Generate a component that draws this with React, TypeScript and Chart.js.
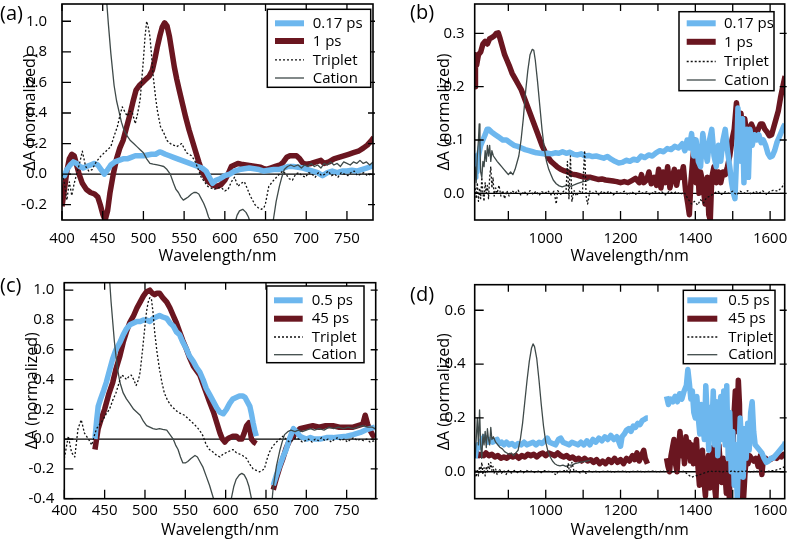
import React, { useEffect, useRef } from "react";
import { Chart, registerables } from "chart.js";
Chart.register(...registerables);

type Pt = [number, number | null];

// ---------------- DATA ----------------
const SERIES_TRIPLET = "Triplet";
const SERIES_CATION = "Cation";
const A_FAST_LABEL = "0.17 ps";
const A_SLOW_LABEL = "1 ps";
const C_FAST_LABEL = "0.5 ps";
const C_SLOW_LABEL = "45 ps";
const X_TITLE = "Wavelength/nm";
const Y_TITLE = "ΔA (normalized)";

const visXTicks = [400, 450, 500, 550, 600, 650, 700, 750];
const nirXTicks = [900, 1000, 1100, 1200, 1300, 1400, 1500, 1600];
const nirXLabels = [1000, 1200, 1400, 1600];
const aYTicks = [-0.2, 0, 0.2, 0.4, 0.6, 0.8, 1.0];
const bYTicks = [0, 0.1, 0.2, 0.3];
const cYTicks = [-0.4, -0.2, 0, 0.2, 0.4, 0.6, 0.8, 1.0];
const dYTicks = [0, 0.2, 0.4, 0.6];

// Panel (a): visible, 0.17 ps / 1 ps
const aFast: Pt[] = [[400,0.0],[403,-0.01],[406,0.03],[410,0.06],[414,0.08],[418,0.07],[422,0.05],[426,0.04],[430,0.05],[435,0.06],[440,0.07],[444,0.06],[448,0.03],[452,0.0],[455,0.02],[460,0.06],[465,0.08],[470,0.09],[475,0.1],[480,0.1],[485,0.11],[490,0.12],[495,0.12],[500,0.12],[505,0.125],[510,0.13],[515,0.13],[520,0.145],[523,0.14],[527,0.13],[532,0.12],[537,0.11],[542,0.1],[547,0.09],[552,0.08],[557,0.07],[562,0.06],[567,0.05],[572,0.04],[577,0.02],[581,-0.02],[585,-0.06],[589,-0.04],[594,-0.03],[600,-0.01],[606,0.0],[612,0.02],[618,0.03],[624,0.035],[630,0.04],[636,0.035],[642,0.03],[648,0.02],[654,0.025],[660,0.03],[666,0.03],[672,0.04],[678,0.05],[684,0.05],[690,0.045],[696,0.04],[702,0.03],[708,0.02],[714,0.01],[720,-0.01],[726,0.01],[732,0.02],[738,0.01],[744,0.02],[750,0.02],[756,0.025],[762,0.02],[768,0.03],[774,0.04],[780,0.05],[785,0.06]];
const aSlow: Pt[] = [[400,-0.21],[403,-0.1],[406,0.02],[409,0.1],[412,0.13],[415,0.12],[418,0.06],[421,0.0],[425,-0.06],[430,-0.1],[435,-0.12],[440,-0.13],[444,-0.15],[447,-0.2],[450,-0.26],[453,-0.3],[456,-0.24],[459,-0.12],[463,0.0],[467,0.1],[471,0.17],[475,0.22],[479,0.3],[483,0.38],[487,0.47],[491,0.55],[495,0.58],[499,0.6],[503,0.62],[507,0.64],[511,0.68],[514,0.75],[517,0.83],[520,0.9],[523,0.96],[526,0.99],[529,0.97],[532,0.9],[535,0.8],[538,0.7],[541,0.62],[544,0.55],[548,0.46],[552,0.37],[556,0.29],[560,0.22],[564,0.15],[568,0.08],[572,0.02],[576,-0.02],[580,-0.05],[585,-0.07],[590,-0.08],[595,-0.07],[600,-0.04],[604,0.0],[608,0.05],[612,0.06],[616,0.07],[620,0.065],[626,0.06],[632,0.055],[638,0.05],[644,0.045],[650,0.03],[656,0.04],[662,0.05],[668,0.06],[672,0.08],[676,0.11],[680,0.12],[684,0.12],[688,0.12],[692,0.1],[696,0.07],[700,0.065],[706,0.07],[712,0.08],[718,0.09],[722,0.07],[728,0.08],[734,0.1],[740,0.11],[746,0.12],[752,0.13],[758,0.14],[764,0.15],[770,0.17],[775,0.19],[780,0.22],[783,0.24],[785,0.22]];
const aTriplet: Pt[] = [[400,0.0],[403,-0.06],[406,-0.17],[409,-0.05],[412,-0.14],[415,-0.06],[418,0.0],[422,0.08],[425,0.15],[429,0.05],[433,0.02],[437,0.03],[442,0.08],[448,0.12],[454,0.15],[460,0.18],[464,0.25],[468,0.31],[471,0.38],[474,0.44],[477,0.41],[480,0.38],[483,0.41],[486,0.41],[490,0.33],[493,0.4],[496,0.49],[500,0.75],[502,0.9],[504,1.0],[506,0.96],[508,0.9],[510,0.78],[512,0.64],[515,0.5],[517,0.42],[521,0.31],[525,0.27],[529,0.22],[533,0.2],[537,0.19],[541,0.18],[547,0.2],[553,0.14],[559,0.12],[563,0.09],[566,0.05],[571,-0.02],[575,-0.05],[579,-0.08],[583,-0.09],[587,-0.1],[591,-0.09],[596,-0.09],[600,-0.11],[604,-0.1],[608,-0.05],[612,-0.02],[616,-0.08],[620,-0.06],[624,-0.05],[628,-0.1],[631,-0.14],[634,-0.17],[637,-0.2],[641,-0.22],[645,-0.23],[648,-0.22],[650,-0.19],[654,-0.08],[660,-0.04],[667,0.0],[671,0.02],[675,0.0],[679,-0.03],[683,-0.04],[687,0.0],[691,0.01],[695,-0.01],[699,-0.02],[703,0.01],[707,0.0],[711,-0.02],[715,0.01],[719,-0.01],[723,0.0],[727,0.02],[731,-0.01],[735,0.0],[739,-0.02],[743,0.01],[747,0.0],[751,-0.01],[755,0.01],[759,0.02],[763,-0.01],[767,0.0],[771,0.01],[775,-0.01],[779,0.0],[785,-0.01]];
const aCation: Pt[] = [[452,1.3],[455,1.12],[457,0.98],[460,0.79],[464,0.58],[467,0.48],[470,0.41],[473,0.34],[476,0.29],[480,0.25],[484,0.22],[488,0.2],[492,0.18],[496,0.16],[500,0.14],[504,0.1],[508,0.07],[512,0.065],[517,0.06],[521,0.055],[525,0.05],[529,0.03],[533,0.0],[537,-0.06],[540,-0.1],[543,-0.12],[546,-0.15],[549,-0.17],[552,-0.16],[555,-0.15],[559,-0.13],[562,-0.12],[565,-0.12],[568,-0.13],[571,-0.16],[574,-0.19],[577,-0.23],[580,-0.28],[583,-0.31],[590,-0.6],[605,-0.6],[612,-0.33],[615,-0.27],[618,-0.24],[622,-0.23],[626,-0.25],[629,-0.28],[632,-0.33],[640,-0.6],[652,-0.6],[659,-0.32],[663,-0.18],[667,-0.08],[670,-0.02],[673,0.03],[677,0.05],[681,0.06],[685,0.05],[690,0.06],[694,0.04],[698,0.06],[702,0.05],[706,0.07],[710,0.05],[714,0.06],[718,0.04],[722,0.07],[726,0.06],[730,0.08],[734,0.06],[738,0.07],[742,0.05],[746,0.08],[750,0.07],[754,0.06],[758,0.08],[762,0.07],[766,0.09],[770,0.07],[774,0.08],[778,0.06],[782,0.08],[785,0.07]];

// Panel (b): NIR, 0.17 ps / 1 ps
const bFast: Pt[] = [[811,0.03],[813,0.07],[816,0.04],[820,0.07],[826,0.09],[832,0.1],[838,0.11],[843,0.12],[848,0.12],[855,0.115],[865,0.11],[875,0.105],[885,0.1],[895,0.1],[905,0.095],[915,0.09],[925,0.088],[935,0.085],[945,0.082],[955,0.08],[965,0.078],[975,0.076],[985,0.075],[995,0.074],[1005,0.075],[1015,0.074],[1025,0.076],[1035,0.075],[1045,0.078],[1055,0.075],[1065,0.077],[1075,0.073],[1085,0.072],[1095,0.074],[1105,0.07],[1115,0.071],[1125,0.069],[1135,0.07],[1145,0.068],[1155,0.066],[1165,0.069],[1175,0.064],[1185,0.06],[1195,0.057],[1205,0.058],[1215,0.062],[1225,0.06],[1235,0.064],[1245,0.062],[1255,0.07],[1265,0.067],[1275,0.072],[1285,0.07],[1295,0.076],[1305,0.08],[1315,0.078],[1325,0.084],[1335,0.082],[1345,0.088],[1355,0.085],[1365,0.093],[1372,0.08],[1378,0.1],[1384,0.085],[1390,0.112],[1396,0.07],[1402,0.1],[1408,0.06],[1414,0.05],[1420,0.112],[1426,0.08],[1432,0.06],[1438,0.1],[1444,0.12],[1450,0.07],[1456,0.05],[1462,0.09],[1468,0.06],[1474,0.1],[1480,0.12],[1486,0.08],[1492,0.05],[1497,0.02],[1502,0.0],[1506,-0.01],[1510,0.06],[1514,0.16],[1518,0.1],[1522,0.06],[1526,0.14],[1530,0.02],[1534,0.1],[1538,0.12],[1542,0.03],[1546,0.12],[1552,0.09],[1558,0.11],[1564,0.1],[1570,0.11],[1576,0.095],[1582,0.1],[1588,0.09],[1594,0.075],[1600,0.068],[1606,0.07],[1612,0.08],[1618,0.095],[1624,0.105],[1630,0.115],[1636,0.125],[1640,0.13]];
const bSlow: Pt[] = [[811,0.2],[812,0.26],[815,0.24],[820,0.26],[826,0.265],[832,0.28],[838,0.285],[844,0.28],[850,0.29],[856,0.292],[862,0.295],[868,0.3],[873,0.301],[878,0.29],[884,0.275],[890,0.26],[896,0.25],[902,0.24],[910,0.225],[918,0.215],[926,0.205],[934,0.195],[942,0.18],[950,0.165],[958,0.15],[966,0.135],[974,0.12],[982,0.105],[990,0.09],[998,0.078],[1006,0.068],[1014,0.06],[1022,0.055],[1030,0.05],[1040,0.045],[1050,0.042],[1060,0.04],[1070,0.036],[1080,0.035],[1090,0.033],[1100,0.031],[1110,0.03],[1120,0.03],[1130,0.028],[1140,0.026],[1150,0.027],[1160,0.025],[1170,0.024],[1180,0.023],[1190,0.022],[1200,0.02],[1210,0.022],[1220,0.02],[1230,0.024],[1240,0.028],[1250,0.02],[1256,0.035],[1262,0.02],[1270,0.025],[1276,0.04],[1282,0.018],[1290,0.03],[1296,0.015],[1302,0.045],[1308,0.01],[1314,0.04],[1320,0.02],[1326,0.05],[1332,0.01],[1338,0.03],[1344,0.045],[1350,0.015],[1356,0.04],[1362,0.03],[1368,0.05],[1374,0.005],[1380,-0.02],[1384,-0.04],[1388,0.02],[1394,0.07],[1398,0.1],[1402,0.02],[1406,0.06],[1410,0.0],[1414,0.04],[1420,0.02],[1426,-0.02],[1432,0.03],[1436,-0.04],[1440,-0.05],[1444,0.03],[1450,0.05],[1456,0.02],[1462,0.04],[1468,0.02],[1474,0.04],[1480,0.035],[1486,0.05],[1492,0.07],[1498,0.1],[1504,0.12],[1510,0.17],[1514,0.14],[1518,0.1],[1522,0.15],[1526,0.12],[1532,0.14],[1538,0.11],[1544,0.12],[1550,0.13],[1556,0.12],[1562,0.11],[1568,0.12],[1574,0.13],[1580,0.13],[1586,0.12],[1592,0.115],[1598,0.108],[1604,0.11],[1610,0.125],[1616,0.14],[1622,0.155],[1628,0.18],[1634,0.2],[1640,0.22]];
const bTriplet: Pt[] = [[811,0.01],[814,-0.01],[817,0.02],[820,-0.015],[823,0.01],[826,-0.01],[829,0.03],[832,0.0],[835,-0.015],[838,0.02],[841,0.0],[844,0.015],[847,-0.01],[850,0.03],[853,0.05],[856,0.01],[859,0.03],[862,-0.005],[866,0.01],[870,0.0],[875,0.015],[880,-0.005],[885,0.005],[890,-0.01],[896,0.005],[902,-0.005],[910,0.005],[918,0.0],[926,0.006],[934,-0.004],[942,0.004],[950,-0.003],[958,0.005],[966,-0.002],[974,0.004],[982,-0.004],[990,0.003],[998,0.0],[1006,0.005],[1014,-0.003],[1022,0.004],[1028,-0.02],[1032,0.005],[1040,-0.002],[1048,0.004],[1054,0.0],[1058,0.06],[1062,-0.01],[1066,0.07],[1070,-0.015],[1076,0.005],[1082,-0.005],[1090,0.004],[1098,0.0],[1104,0.08],[1108,-0.005],[1112,-0.02],[1118,0.004],[1126,0.0],[1134,0.004],[1142,-0.003],[1150,0.004],[1160,0.0],[1170,0.004],[1180,-0.003],[1190,0.003],[1200,0.0],[1210,0.004],[1220,-0.003],[1230,0.003],[1240,-0.002],[1250,0.004],[1260,0.0],[1270,0.003],[1280,-0.003],[1290,0.004],[1300,0.0],[1310,0.003],[1320,-0.003],[1330,0.004],[1340,0.0],[1350,0.003],[1360,-0.002],[1370,0.002],[1380,-0.01],[1390,-0.02],[1398,-0.015],[1406,-0.022],[1414,-0.012],[1422,-0.018],[1430,-0.008],[1440,-0.005],[1450,0.0],[1460,0.004],[1470,-0.002],[1480,0.003],[1490,0.0],[1500,0.004],[1510,-0.003],[1520,0.004],[1530,0.0],[1540,0.005],[1550,-0.002],[1560,0.004],[1570,0.0],[1580,0.005],[1590,-0.002],[1600,0.004],[1610,0.006],[1620,0.004],[1630,0.01],[1640,0.02]];
const bCation: Pt[] = [[811,0.05],[814,0.02],[817,0.07],[820,0.1],[822,0.13],[824,0.09],[826,0.04],[829,0.03],[832,0.06],[835,0.05],[838,0.08],[841,0.06],[844,0.09],[847,0.07],[850,0.09],[853,0.06],[856,0.08],[860,0.07],[865,0.065],[870,0.06],[876,0.055],[882,0.05],[888,0.045],[894,0.04],[900,0.035],[906,0.04],[912,0.035],[918,0.045],[922,0.055],[928,0.07],[934,0.1],[940,0.14],[946,0.19],[952,0.23],[958,0.26],[964,0.27],[968,0.268],[972,0.25],[978,0.21],[984,0.165],[990,0.12],[996,0.085],[1002,0.06],[1008,0.045],[1014,0.035],[1020,0.025],[1028,0.018],[1036,0.014],[1044,0.012],[1052,0.014],[1060,0.015],[1068,0.013],[1076,0.016],[1084,0.018],[1092,0.02],[1100,0.022],[1108,0.023],[1115,0.025],[1120,0.027]];

// Panel (c): visible, 0.5 ps / 45 ps
const cFast: Pt[] = [[438,0.0],[440,0.12],[442,0.22],[445,0.27],[449,0.33],[452,0.38],[456,0.46],[460,0.54],[464,0.6],[469,0.65],[473,0.7],[477,0.74],[482,0.77],[486,0.78],[490,0.79],[494,0.79],[498,0.8],[502,0.8],[506,0.79],[510,0.81],[514,0.82],[518,0.83],[522,0.82],[527,0.81],[531,0.78],[535,0.76],[539,0.72],[543,0.7],[547,0.65],[551,0.61],[555,0.56],[560,0.52],[564,0.48],[568,0.45],[572,0.4],[576,0.34],[580,0.3],[585,0.25],[589,0.21],[593,0.18],[597,0.17],[601,0.2],[605,0.24],[609,0.27],[613,0.28],[617,0.29],[621,0.29],[624,0.28],[627,0.25],[630,0.22],[632,0.17],[634,0.11],[636,0.06],[638,0.02],[648,null],[659,-0.31],[663,-0.24],[667,-0.18],[671,-0.12],[675,-0.07],[679,0.0],[684,0.07],[688,0.05],[692,0.02],[696,0.01],[700,0.0],[705,0.01],[710,0.0],[717,0.0],[725,0.01],[733,0.01],[741,0.015],[750,0.02],[758,0.03],[767,0.045],[773,0.06],[779,0.07],[785,0.08]];
const cSlow: Pt[] = [[438,-0.07],[440,0.0],[442,0.07],[446,0.14],[450,0.2],[455,0.3],[460,0.38],[464,0.47],[469,0.56],[473,0.65],[477,0.72],[481,0.78],[486,0.83],[490,0.88],[494,0.92],[498,0.96],[502,0.99],[506,1.0],[509,0.98],[512,0.97],[515,0.98],[518,0.98],[522,0.95],[527,0.92],[531,0.88],[535,0.83],[539,0.78],[543,0.72],[547,0.66],[551,0.61],[555,0.55],[560,0.49],[564,0.46],[568,0.43],[572,0.37],[576,0.31],[580,0.25],[585,0.18],[589,0.11],[593,0.04],[596,0.0],[599,-0.02],[602,0.0],[605,0.01],[609,0.02],[613,0.02],[617,0.0],[620,0.0],[623,0.04],[626,0.09],[629,0.11],[632,0.0],[635,-0.02],[638,-0.03],[648,null],[659,-0.34],[663,-0.26],[667,-0.19],[671,-0.13],[675,-0.06],[680,0.0],[684,0.02],[688,0.05],[692,0.07],[700,0.08],[708,0.09],[716,0.08],[724,0.09],[733,0.09],[741,0.08],[750,0.08],[758,0.08],[764,0.09],[770,0.1],[773,0.16],[776,0.1],[779,0.06],[782,0.03],[785,0.01]];
const cTriplet: Pt[] = [[400,-0.13],[403,-0.04],[405,0.02],[409,-0.09],[413,-0.12],[417,0.07],[421,0.13],[425,0.04],[430,0.0],[434,-0.04],[437,0.02],[440,0.07],[444,0.1],[448,0.13],[452,0.17],[456,0.2],[460,0.26],[464,0.31],[468,0.38],[471,0.43],[474,0.42],[477,0.4],[480,0.42],[483,0.43],[486,0.4],[489,0.36],[492,0.4],[494,0.45],[497,0.6],[500,0.76],[502,0.86],[504,0.92],[506,0.95],[508,0.94],[510,0.85],[512,0.72],[515,0.58],[518,0.47],[521,0.38],[524,0.31],[528,0.26],[533,0.22],[537,0.2],[541,0.18],[545,0.17],[549,0.16],[553,0.14],[557,0.12],[561,0.1],[566,0.07],[570,0.04],[572,0.02],[576,-0.04],[580,-0.07],[585,-0.09],[589,-0.11],[593,-0.12],[597,-0.1],[601,-0.09],[605,-0.08],[609,-0.07],[613,-0.09],[617,-0.1],[621,-0.11],[626,-0.13],[630,-0.17],[634,-0.2],[638,-0.21],[642,-0.22],[645,-0.21],[648,-0.2],[651,-0.14],[654,-0.09],[658,-0.05],[663,-0.02],[667,0.0],[671,0.02],[675,0.0],[679,-0.02],[683,-0.01],[687,0.01],[691,0.0],[695,-0.02],[699,-0.01],[703,0.0],[707,-0.02],[711,0.0],[715,-0.01],[719,0.01],[723,-0.01],[727,0.0],[731,-0.02],[735,0.0],[739,0.01],[743,-0.01],[747,0.0],[751,-0.02],[755,0.0],[759,0.01],[763,-0.01],[767,0.0],[771,-0.01],[775,0.0],[779,-0.02],[785,-0.01]];
const cCation: Pt[] = [[454,1.3],[456,1.08],[458,0.92],[460,0.79],[462,0.66],[464,0.56],[466,0.47],[469,0.38],[473,0.31],[477,0.27],[481,0.24],[486,0.2],[490,0.18],[494,0.16],[498,0.12],[502,0.09],[506,0.08],[510,0.07],[514,0.065],[518,0.07],[522,0.065],[527,0.06],[531,0.03],[535,0.0],[538,-0.04],[541,-0.07],[544,-0.12],[547,-0.16],[550,-0.16],[553,-0.15],[557,-0.13],[562,-0.11],[565,-0.12],[568,-0.15],[572,-0.19],[576,-0.25],[580,-0.31],[585,-0.4],[592,-0.7],[600,-0.7],[607,-0.4],[610,-0.32],[613,-0.27],[617,-0.24],[620,-0.23],[623,-0.24],[626,-0.27],[629,-0.32],[632,-0.4],[640,-0.7],[653,-0.7],[659,-0.32],[663,-0.18],[667,-0.08],[670,-0.02],[673,0.03],[677,0.05],[681,0.06],[686,0.05],[690,0.06],[695,0.05],[700,0.06],[705,0.07],[710,0.06],[716,0.07],[722,0.06],[728,0.08],[734,0.07],[740,0.08],[746,0.07],[752,0.08],[758,0.07],[764,0.08],[770,0.09],[776,0.08],[782,0.08],[785,0.07]];

// Panel (d): NIR, 0.5 ps / 45 ps
const dFast: Pt[] = [[811,0.05],[814,0.08],[818,0.1],[822,0.09],[826,0.11],[830,0.12],[835,0.13],[840,0.125],[846,0.11],[852,0.12],[858,0.11],[864,0.115],[870,0.12],[876,0.105],[882,0.11],[888,0.1],[895,0.11],[902,0.1],[910,0.105],[918,0.095],[926,0.105],[934,0.1],[942,0.11],[950,0.1],[958,0.105],[966,0.11],[974,0.1],[982,0.11],[990,0.105],[998,0.115],[1004,0.125],[1010,0.11],[1018,0.105],[1026,0.1],[1034,0.12],[1040,0.125],[1046,0.11],[1054,0.105],[1062,0.1],[1070,0.11],[1078,0.105],[1086,0.1],[1094,0.11],[1102,0.1],[1110,0.115],[1118,0.1],[1126,0.12],[1134,0.11],[1142,0.125],[1150,0.115],[1158,0.13],[1166,0.12],[1174,0.135],[1182,0.12],[1190,0.13],[1196,0.11],[1200,0.095],[1204,0.13],[1210,0.14],[1216,0.155],[1222,0.16],[1228,0.15],[1234,0.17],[1240,0.165],[1246,0.18],[1252,0.175],[1258,0.19],[1264,0.195],[1270,0.2],[1273,0.2],[1296,null],[1323,0.28],[1328,0.25],[1334,0.27],[1340,0.26],[1346,0.28],[1352,0.26],[1358,0.29],[1364,0.27],[1370,0.3],[1376,0.32],[1380,0.38],[1384,0.33],[1388,0.27],[1392,0.3],[1396,0.22],[1400,0.2],[1404,0.28],[1408,0.2],[1412,0.14],[1416,0.25],[1420,0.18],[1424,0.12],[1428,0.32],[1432,0.2],[1436,0.08],[1440,0.24],[1444,0.15],[1448,0.3],[1452,0.1],[1456,0.26],[1460,0.06],[1464,0.2],[1468,0.28],[1472,0.12],[1476,0.3],[1480,0.1],[1484,0.32],[1488,0.05],[1492,0.22],[1496,0.0],[1500,0.15],[1504,-0.05],[1508,0.1],[1512,-0.1],[1516,0.05],[1520,0.2],[1524,0.1],[1528,-0.02],[1532,0.16],[1536,0.05],[1540,0.18],[1544,0.08],[1548,0.22],[1552,0.26],[1556,0.15],[1560,0.1],[1566,0.09],[1572,0.08],[1578,0.07],[1584,0.05],[1590,0.035],[1596,0.04],[1602,0.05],[1608,0.05],[1614,0.06],[1620,0.07],[1626,0.08],[1632,0.09],[1638,0.1],[1641,0.11]];
const dSlow: Pt[] = [[811,0.06],[816,0.07],[822,0.06],[828,0.065],[834,0.06],[840,0.07],[848,0.06],[856,0.065],[864,0.055],[872,0.06],[880,0.05],[888,0.055],[896,0.05],[904,0.06],[912,0.055],[920,0.06],[928,0.05],[936,0.06],[944,0.055],[952,0.065],[960,0.06],[968,0.065],[976,0.055],[984,0.065],[992,0.07],[1000,0.06],[1008,0.07],[1016,0.065],[1024,0.06],[1032,0.07],[1040,0.06],[1048,0.055],[1056,0.06],[1064,0.05],[1072,0.055],[1080,0.045],[1088,0.05],[1096,0.04],[1104,0.05],[1112,0.04],[1120,0.045],[1128,0.035],[1136,0.045],[1144,0.03],[1152,0.04],[1160,0.03],[1168,0.045],[1176,0.035],[1184,0.05],[1192,0.035],[1200,0.045],[1208,0.03],[1216,0.05],[1224,0.04],[1232,0.06],[1238,0.045],[1244,0.07],[1250,0.04],[1256,0.06],[1262,0.08],[1266,0.05],[1272,0.03],[1296,null],[1323,0.05],[1327,0.02],[1331,0.0],[1335,0.06],[1339,0.09],[1343,0.12],[1347,0.03],[1351,0.0],[1355,0.08],[1359,0.15],[1363,0.06],[1367,0.1],[1371,0.03],[1375,0.13],[1379,0.07],[1383,0.11],[1387,0.04],[1391,0.1],[1395,0.03],[1399,0.06],[1403,0.12],[1407,0.02],[1411,-0.05],[1415,0.04],[1419,0.08],[1423,-0.03],[1427,-0.09],[1431,0.02],[1435,0.06],[1439,-0.06],[1443,0.03],[1447,0.09],[1451,-0.05],[1455,-0.1],[1459,0.04],[1463,0.1],[1467,0.02],[1471,-0.04],[1475,0.05],[1479,0.0],[1483,-0.08],[1487,0.03],[1491,-0.1],[1495,0.12],[1499,0.03],[1503,0.2],[1507,0.3],[1511,0.15],[1515,0.34],[1518,0.25],[1521,-0.1],[1525,0.05],[1529,-0.1],[1533,0.0],[1537,0.06],[1541,0.03],[1545,0.06],[1550,0.05],[1556,0.04],[1562,0.05],[1568,0.02],[1574,0.06],[1578,-0.01],[1582,0.05],[1588,0.05],[1594,0.04],[1600,0.045],[1606,0.05],[1612,0.055],[1618,0.05],[1624,0.06],[1630,0.055],[1636,0.065],[1641,0.06]];
const dTriplet: Pt[] = [[811,0.005],[814,-0.02],[817,0.01],[820,-0.015],[823,0.02],[826,0.0],[829,0.035],[832,-0.01],[835,0.015],[838,-0.015],[841,0.02],[844,0.0],[847,0.03],[850,0.01],[853,0.035],[856,0.005],[859,0.02],[862,-0.005],[866,0.01],[870,-0.01],[876,0.01],[882,-0.005],[888,0.005],[894,-0.01],[900,0.005],[908,-0.005],[916,0.005],[924,-0.003],[932,0.004],[940,-0.004],[948,0.005],[956,0.0],[964,0.004],[972,-0.004],[980,0.003],[988,-0.003],[996,0.004],[1004,0.0],[1012,0.004],[1020,-0.004],[1028,-0.012],[1034,0.004],[1042,0.0],[1050,0.004],[1056,0.0],[1060,0.03],[1064,-0.006],[1070,0.035],[1076,0.0],[1084,0.004],[1092,-0.004],[1100,0.004],[1108,-0.006],[1116,0.003],[1124,0.0],[1132,0.004],[1140,-0.003],[1150,0.003],[1160,0.0],[1170,0.004],[1180,-0.003],[1190,0.003],[1200,0.0],[1210,0.004],[1220,-0.003],[1230,0.003],[1240,0.0],[1250,0.004],[1260,-0.002],[1270,0.003],[1280,0.0],[1290,0.004],[1300,-0.002],[1310,0.003],[1320,0.0],[1330,0.004],[1340,-0.002],[1350,0.003],[1360,0.0],[1370,0.002],[1380,-0.01],[1390,-0.02],[1400,-0.015],[1410,-0.012],[1420,-0.006],[1430,-0.002],[1440,0.003],[1450,0.0],[1460,0.004],[1470,-0.002],[1480,0.003],[1490,0.0],[1500,0.004],[1510,-0.002],[1520,0.003],[1530,0.0],[1540,0.004],[1550,-0.002],[1560,0.003],[1570,0.0],[1580,0.004],[1590,-0.002],[1600,0.005],[1610,0.004],[1620,0.008],[1630,0.012],[1640,0.02]];
const dCation: Pt[] = [[811,0.05],[814,0.12],[817,0.2],[820,0.1],[823,0.23],[826,0.1],[829,0.05],[832,0.14],[835,0.1],[838,0.15],[841,0.09],[844,0.16],[847,0.12],[850,0.1],[853,0.165],[856,0.12],[860,0.13],[866,0.11],[872,0.1],[878,0.09],[884,0.085],[890,0.075],[896,0.07],[902,0.065],[908,0.07],[914,0.06],[920,0.07],[926,0.08],[932,0.12],[938,0.18],[944,0.26],[950,0.34],[956,0.41],[962,0.46],[966,0.475],[970,0.465],[976,0.42],[982,0.34],[988,0.25],[994,0.17],[1000,0.11],[1006,0.075],[1012,0.055],[1018,0.04],[1024,0.03],[1030,0.025],[1038,0.022],[1046,0.025],[1054,0.02],[1062,0.025],[1070,0.025],[1078,0.03],[1086,0.033],[1094,0.036],[1102,0.038],[1110,0.04],[1118,0.043]];

// ---------------- STYLE / LAYOUT ----------------
const BLUE = "#6db7ee";
const MAROON = "#6a1620";
const CATION = "#3f4a49";
const FONT = "'Open Sans', 'DejaVu Sans', sans-serif";
const W = 394;
const H = 272;
const TICK_FONT = 15;
const TITLE_FONT = 16;

interface PanelCfg {
  tag: string;
  left: number;
  top: number;
  tagPos: { x: number; y: number };
  fast: Pt[];
  slow: Pt[];
  triplet: Pt[];
  cation: Pt[];
  fastLabel: string;
  slowLabel: string;
  xRange: [number, number];
  yRange: [number, number];
  xTicks: number[];
  xLabels: number[];
  yTicks: number[];
  area: { l: number; t: number; r: number; b: number };
  yTickPad: number;
  xTickPad: number;
  yTitleCenter: number;
  xTitleCenter: number;
  legend: { x: number; y: number; w: number; h: number; rows: number[]; s0: number; s1: number; tx: number };
}

const panels: PanelCfg[] = [
  {
    tag: "(a)", left: 0, top: 0, tagPos: { x: 0, y: 1 },
    fast: aFast, slow: aSlow, triplet: aTriplet, cation: aCation,
    fastLabel: A_FAST_LABEL, slowLabel: A_SLOW_LABEL,
    xRange: [400, 782], yRange: [-0.3, 1.113],
    xTicks: visXTicks, xLabels: visXTicks, yTicks: aYTicks,
    area: { l: 62, t: 4, r: 373, b: 220 },
    yTickPad: 15, xTickPad: 10, yTitleCenter: 30.5, xTitleCenter: 256.7,
    legend: { x: 267.3, y: 9.3, w: 103.4, h: 78, rows: [23.3, 41, 59.8, 78], s0: 275, s1: 304, tx: 312.7 },
  },
  {
    tag: "(b)", left: 394, top: 0, tagPos: { x: 16, y: 0 },
    fast: bFast, slow: bSlow, triplet: bTriplet, cation: bCation,
    fastLabel: A_FAST_LABEL, slowLabel: A_SLOW_LABEL,
    xRange: [810, 1639], yRange: [-0.05, 0.355],
    xTicks: nirXTicks, xLabels: nirXLabels, yTicks: bYTicks,
    area: { l: 80.7, t: 4, r: 390.7, b: 220 },
    yTickPad: 10, xTickPad: 10, yTitleCenter: 50, xTitleCenter: 256.7,
    legend: { x: 285, y: 11.7, w: 95, h: 79, rows: [23.3, 41.8, 61.5, 80], s0: 292.7, s1: 321.7, tx: 330 },
  },
  {
    tag: "(c)", left: 0, top: 272, tagPos: { x: 0, y: 1 },
    fast: cFast, slow: cSlow, triplet: cTriplet, cation: cCation,
    fastLabel: C_FAST_LABEL, slowLabel: C_SLOW_LABEL,
    xRange: [400, 786], yRange: [-0.4, 1.05],
    xTicks: visXTicks, xLabels: visXTicks, yTicks: cYTicks,
    area: { l: 64.3, t: 10.7, r: 375.7, b: 226.7 },
    yTickPad: 10, xTickPad: 3.3, yTitleCenter: 32, xTitleCenter: 258.3,
    legend: { x: 266.7, y: 14, w: 97.3, h: 76.7, rows: [28.3, 46.7, 65, 82.7], s0: 274, s1: 302.7, tx: 311.7 },
  },
  {
    tag: "(d)", left: 394, top: 272, tagPos: { x: 16, y: 10 },
    fast: dFast, slow: dSlow, triplet: dTriplet, cation: dCation,
    fastLabel: C_FAST_LABEL, slowLabel: C_SLOW_LABEL,
    xRange: [810, 1639], yRange: [-0.1, 0.695],
    xTicks: nirXTicks, xLabels: nirXLabels, yTicks: dYTicks,
    area: { l: 80.7, t: 12.7, r: 390.7, b: 226.7 },
    yTickPad: 9, xTickPad: 3.3, yTitleCenter: 50, xTitleCenter: 258.3,
    legend: { x: 289.3, y: 18.3, w: 91.7, h: 73.4, rows: [28.3, 46.7, 65, 82.7], s0: 293.3, s1: 323.3, tx: 334.3 },
  },
];

const toXY = (pts: Pt[]) => pts.map(([x, y]) => ({ x, y }));

function zeroPad(s: any) {
  s.paddingLeft = 0;
  s.paddingRight = 0;
  s.paddingTop = 0;
  s.paddingBottom = 0;
}

function makeDecor(cfg: PanelCfg) {
  return {
    id: "decor",
    beforeDatasetsDraw(chart: any) {
      const { ctx, chartArea: a, scales } = chart;
      const y0 = scales.y.getPixelForValue(0);
      ctx.save();
      ctx.strokeStyle = "#000";
      ctx.lineWidth = 1.4;
      ctx.beginPath();
      ctx.moveTo(a.left, y0);
      ctx.lineTo(a.right, y0);
      ctx.stroke();
      ctx.restore();
    },
    afterDatasetsDraw(chart: any) {
      const { ctx, chartArea: a, scales } = chart;
      ctx.save();
      ctx.strokeStyle = "#000";
      ctx.lineWidth = 1.6;
      ctx.strokeRect(a.left, a.top, a.right - a.left, a.bottom - a.top);
      ctx.lineWidth = 1.3;
      ctx.beginPath();
      for (const v of cfg.xTicks) {
        const x = scales.x.getPixelForValue(v);
        if (x < a.left - 0.5 || x > a.right + 0.5) continue;
        ctx.moveTo(x, a.bottom);
        ctx.lineTo(x, a.bottom - 9);
        ctx.moveTo(x, a.top);
        ctx.lineTo(x, a.top + 7);
      }
      for (const v of cfg.yTicks) {
        const y = scales.y.getPixelForValue(v);
        ctx.moveTo(a.left, y);
        ctx.lineTo(a.left + 9, y);
        ctx.moveTo(a.right + 2, y);
        ctx.lineTo(a.right - 5, y);
      }
      ctx.stroke();
      ctx.restore();
    },
    afterDraw(chart: any) {
      const { ctx } = chart;
      const L = cfg.legend;
      ctx.save();
      ctx.fillStyle = "#fff";
      ctx.fillRect(L.x, L.y, L.w, L.h);
      ctx.strokeStyle = "#000";
      ctx.lineWidth = 1.5;
      ctx.strokeRect(L.x, L.y, L.w, L.h);
      chart.data.datasets.forEach((ds: any, i: number) => {
        const y = L.rows[i];
        ctx.save();
        ctx.strokeStyle = ds.borderColor;
        ctx.lineWidth = ds.borderWidth >= 3 ? 6 : ds.borderWidth;
        ctx.setLineDash(ds.borderDash || []);
        ctx.beginPath();
        ctx.moveTo(L.s0, y);
        ctx.lineTo(L.s1, y);
        ctx.stroke();
        ctx.restore();
        ctx.fillStyle = "#000";
        ctx.font = `15px ${FONT}`;
        ctx.textBaseline = "middle";
        ctx.textAlign = "left";
        ctx.fillText(ds.label, L.tx, y + 0.5);
      });
      ctx.restore();
    },
  };
}

function buildConfig(cfg: PanelCfg): any {
  const common = { pointRadius: 0, tension: 0, spanGaps: false, clip: 0, borderJoinStyle: "round", fill: false };
  return {
    type: "line",
    data: {
      datasets: [
        { ...common, label: cfg.fastLabel, data: toXY(cfg.fast), borderColor: BLUE, borderWidth: 5.5, order: 2 },
        { ...common, label: cfg.slowLabel, data: toXY(cfg.slow), borderColor: MAROON, borderWidth: 5.5, order: 3 },
        { ...common, label: SERIES_TRIPLET, data: toXY(cfg.triplet), borderColor: "#111", borderWidth: 1.3, borderDash: [2, 2], order: 0 },
        { ...common, label: SERIES_CATION, data: toXY(cfg.cation), borderColor: CATION, borderWidth: 1.3, order: 1 },
      ],
    },
    options: {
      animation: false,
      responsive: false,
      devicePixelRatio: 1,
      events: [],
      layout: { padding: { left: 0, top: cfg.area.t, right: W - cfg.area.r, bottom: 0 } },
      plugins: { legend: { display: false }, tooltip: { enabled: false }, title: { display: false } },
      scales: {
        x: {
          type: "linear",
          min: cfg.xRange[0],
          max: cfg.xRange[1],
          afterFit: (s: any) => { s.height = H - cfg.area.b; zeroPad(s); },
          afterBuildTicks: (s: any) => { s.ticks = cfg.xLabels.map((v) => ({ value: v })); },
          grid: { display: false, drawTicks: false },
          border: { display: false },
          ticks: {
            color: "#000",
            font: { family: FONT, size: TICK_FONT },
            padding: cfg.xTickPad,
            autoSkip: false,
            maxRotation: 0,
            callback: (v: any) => String(v),
          },
          title: {
            display: true,
            text: X_TITLE,
            color: "#000",
            font: { family: FONT, size: TITLE_FONT },
            padding: { top: 0, bottom: H - cfg.xTitleCenter - TITLE_FONT * 0.6 },
          },
        },
        y: {
          type: "linear",
          min: cfg.yRange[0],
          max: cfg.yRange[1],
          afterFit: (s: any) => { s.width = cfg.area.l; zeroPad(s); },
          afterBuildTicks: (s: any) => { s.ticks = cfg.yTicks.map((v) => ({ value: v })); },
          grid: { display: false, drawTicks: false },
          border: { display: false },
          ticks: {
            color: "#000",
            font: { family: FONT, size: TICK_FONT },
            padding: cfg.yTickPad,
            callback: (v: any) => Number(v).toFixed(1),
          },
          title: {
            display: true,
            text: Y_TITLE,
            color: "#000",
            font: { family: FONT, size: TITLE_FONT },
            padding: { top: cfg.yTitleCenter - TITLE_FONT * 0.6, bottom: 0 },
          },
        },
      },
    },
    plugins: [makeDecor(cfg)],
  };
}

function Panel({ cfg }: { cfg: PanelCfg }) {
  const ref = useRef<HTMLCanvasElement>(null);
  useEffect(() => {
    if (!ref.current) return;
    const chart = new Chart(ref.current, buildConfig(cfg));
    return () => chart.destroy();
  }, [cfg]);
  return (
    <div style={{ position: "absolute", left: cfg.left, top: cfg.top, width: W, height: H }}>
      <canvas ref={ref} width={W} height={H} style={{ width: W, height: H, display: "block" }} />
      <div
        style={{
          position: "absolute",
          left: cfg.tagPos.x,
          top: cfg.tagPos.y,
          fontFamily: FONT,
          fontSize: 20,
          lineHeight: "24px",
          color: "#000",
        }}
      >
        {cfg.tag}
      </div>
    </div>
  );
}

export default function App() {
  return (
    <div style={{ position: "absolute", left: 0, top: 0, width: 788, height: 544, background: "#fff", overflow: "hidden" }}>
      {panels.map((p) => (
        <Panel key={p.tag} cfg={p} />
      ))}
    </div>
  );
}
